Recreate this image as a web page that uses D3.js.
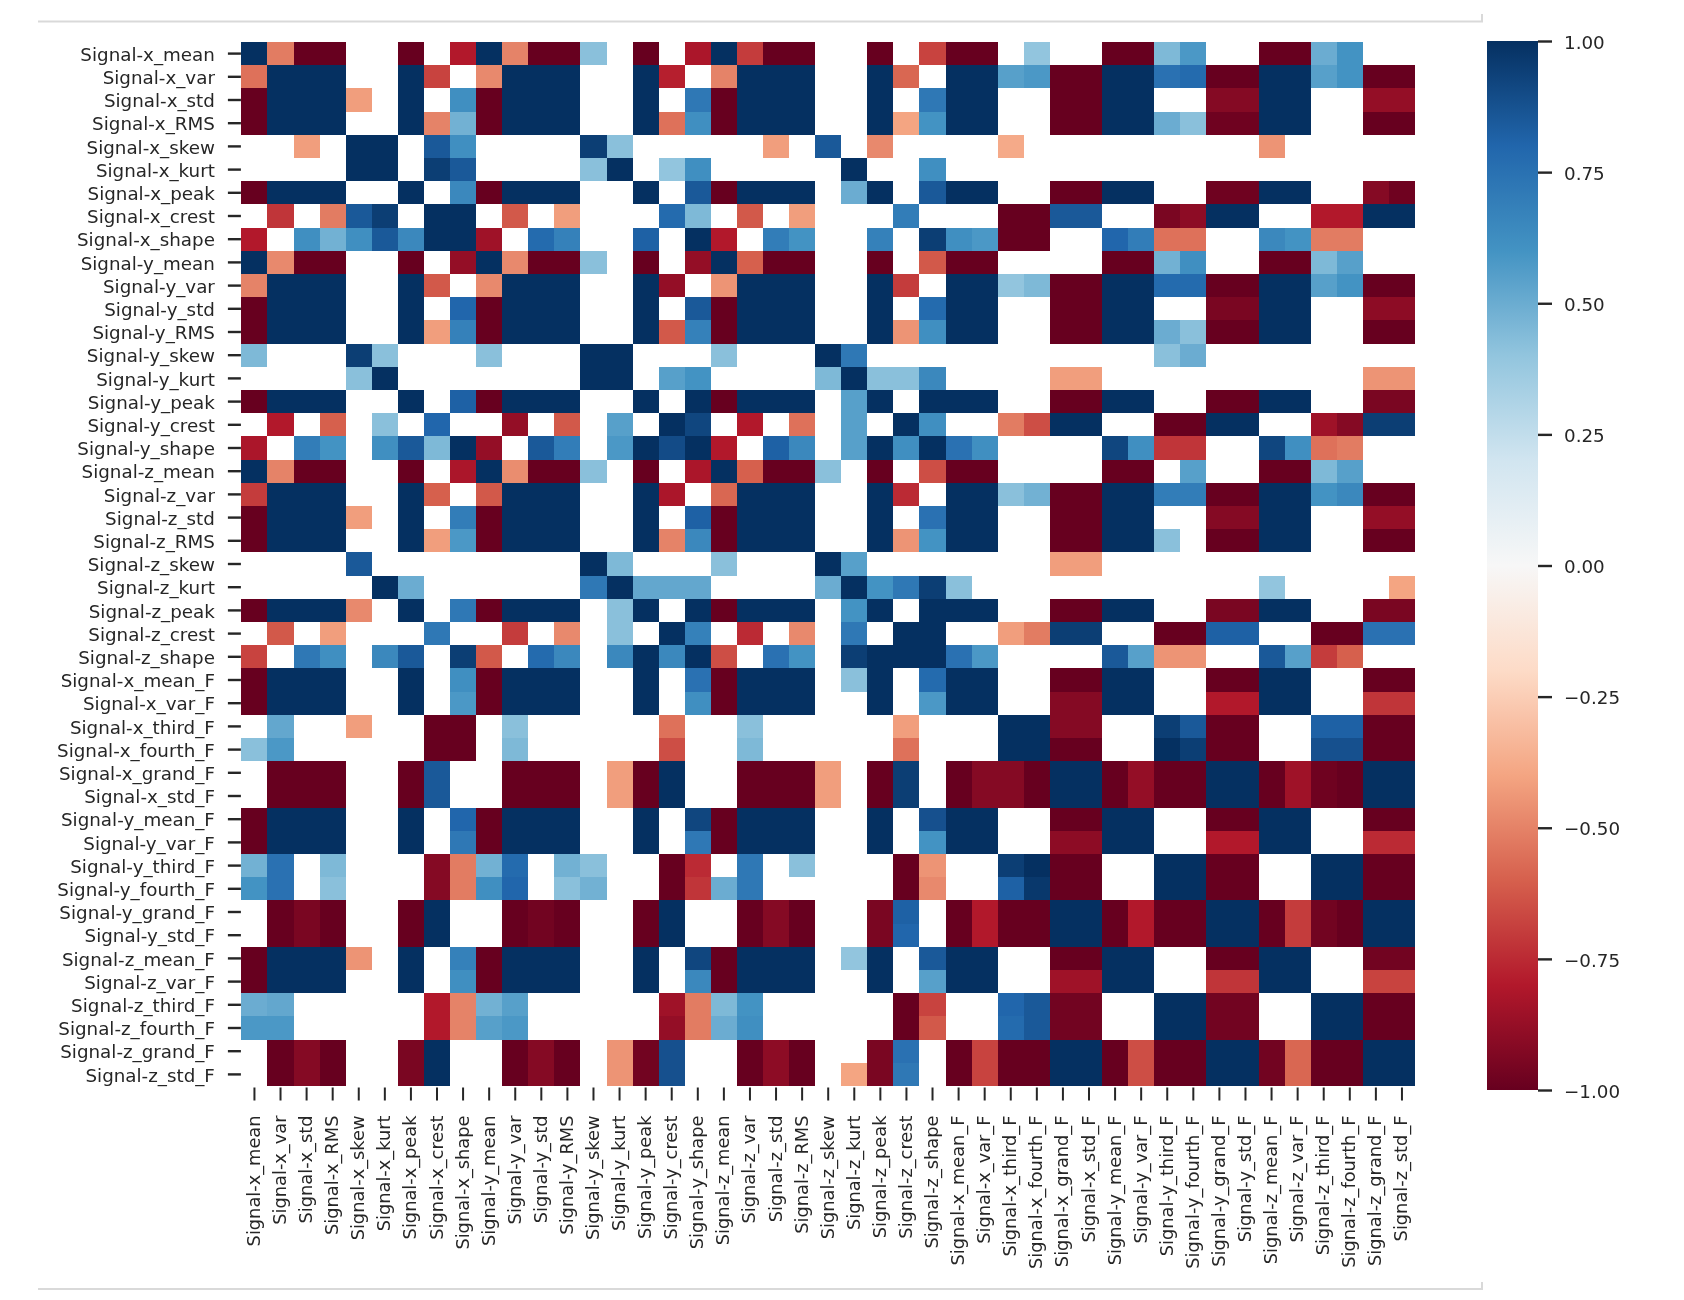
<!DOCTYPE html>
<html><head><meta charset="utf-8">
<script src="https://cdn.jsdelivr.net/npm/d3@7"></script>
<style>html,body{margin:0;padding:0;background:#fff}svg{display:block;filter:blur(.55px)}</style>
</head><body><div id="chart"></div>
<script>
const labels=["Signal-x_mean","Signal-x_var","Signal-x_std","Signal-x_RMS","Signal-x_skew","Signal-x_kurt","Signal-x_peak","Signal-x_crest","Signal-x_shape","Signal-y_mean","Signal-y_var","Signal-y_std","Signal-y_RMS","Signal-y_skew","Signal-y_kurt","Signal-y_peak","Signal-y_crest","Signal-y_shape","Signal-z_mean","Signal-z_var","Signal-z_std","Signal-z_RMS","Signal-z_skew","Signal-z_kurt","Signal-z_peak","Signal-z_crest","Signal-z_shape","Signal-x_mean_F","Signal-x_var_F","Signal-x_third_F","Signal-x_fourth_F","Signal-x_grand_F","Signal-x_std_F","Signal-y_mean_F","Signal-y_var_F","Signal-y_third_F","Signal-y_fourth_F","Signal-y_grand_F","Signal-y_std_F","Signal-z_mean_F","Signal-z_var_F","Signal-z_third_F","Signal-z_fourth_F","Signal-z_grand_F","Signal-z_std_F"];
const colorbarTicks=[-1,-.75,-.5,-.25,0,.25,.5,.75,1];
const rdbuStops=[-1,-.8,-.6,-.4,-.2,0,.2,.4,.6,.8,1];
const rdbuColors=["#67001f","#b2182b","#d6604d","#f4a582","#fddbc7","#f7f7f7","#d1e5f0","#92c5de","#4393c3","#2166ac","#053061"];
// Correlations by row; 0 marks a cell left blank (white) in the reference.
const r00=[1,-.52,-1,-1,0,0,-1,0,-.8, 1,-.5,-1,-1,.42,0,-1,0,-.82, 1,-.7,-1,-1,0,0,-1,0,-.68, -1,-1,0,.4,0,0,-1,-1,.45, .58,0,0,-1,-1,.5,.6,0,0];
const r01=[-.55,1,1,1,0,0,1,-.68,0, -.48,1,1,1,0,0,1,-.78,0, -.5,1,1,1,0,0,1,-.58,0, 1,1,.55,.58,-1,-1,1,1,.75, .78,-1,-1,1,1,.55,.6,-1,-1];
const r02=[-1,1,1,1,-.42,0,1,0,.62, -1,1,1,1,0,0,1,0,.72, -1,1,1,1,0,0,1,0,.72, 1,1,0,0,-1,-1,1,1,0, 0,-.92,-.92,1,1,0,0,-.88,-.88];
const r03=[-1,1,1,1,0,0,1,-.5,.48, -1,1,1,1,0,0,1,-.55,.62, -1,1,1,1,0,0,1,-.4,.6, 1,1,0,0,-1,-1,1,1,.5, .42,-.98,-.98,1,1,0,0,-1,-1];
const r04=[0,0,-.42,0,1,1,0,.85,.62, 0,0,0,0,.95,.42,0,0,0, 0,0,-.42,0,.85,0,-.48,0,0, 0,0,-.38,0,0,0,0,0,0, 0,0,0,-.45,0,0,0,0,0];
const r05=[0,0,0,0,1,1,0,.95,.85, 0,0,0,0,.42,1,0,.4,.62, 0,0,0,0,0,1,0,0,.62, 0,0,0,0,0,0,0,0,0, 0,0,0,0,0,0,0,0,0];
const r06=[-1,1,1,1,0,0,1,0,.65, -1,1,1,1,0,0,1,0,.85, -1,1,1,1,0,.5,1,0,.85, 1,1,0,0,-1,-1,1,1,0, 0,-.98,-.98,1,1,0,0,-.92,-.98];
const r07=[0,-.72,0,-.52,.85,.95,0,1,1, 0,-.62,0,-.42,0,0,0,.78,.45, 0,-.62,0,-.42,0,0,0,.7,0, 0,0,-1,-1,.85,.85,0,0,-.95, -.9,1,1,0,0,-.8,-.8,1,1];
const r08=[-.8,0,.62,.48,.62,.85,.65,1,1, -.85,0,.78,.68,0,0,.82,0,1, -.8,0,.7,.6,0,0,.68,0,.95, .62,.58,-1,-1,0,0,.8,.7,-.55, -.55,0,0,.65,.6,-.52,-.52,0,0];
const r09=[1,-.48,-1,-1,0,0,-1,0,-.88, 1,-.48,-1,-1,.42,0,-1,0,-.88, 1,-.6,-1,-1,0,0,-1,0,-.62, -1,-1,0,0,0,0,-1,-1,.48, .62,0,0,-1,-1,.45,.55,0,0];
const r10=[-.5,1,1,1,0,0,1,-.62,0, -.48,1,1,1,0,0,1,-.88,0, -.45,1,1,1,0,0,1,-.7,0, 1,1,.4,.45,-1,-1,1,1,.78, .78,-1,-1,1,1,.55,.6,-1,-1];
const r11=[-1,1,1,1,0,0,1,0,.8, -1,1,1,1,0,0,1,0,.85, -1,1,1,1,0,0,1,0,.78, 1,1,0,0,-1,-1,1,1,0, 0,-.95,-.95,1,1,0,0,-.9,-.9];
const r12=[-1,1,1,1,0,0,1,-.42,.68, -1,1,1,1,0,0,1,-.62,.68, -1,1,1,1,0,0,1,-.45,.62, 1,1,0,0,-1,-1,1,1,.5, .42,-1,-1,1,1,0,0,-1,-1];
const r13=[.45,0,0,0,.95,.42,0,0,0, .42,0,0,0,1,1,0,0,0, .42,0,0,0,1,.72,0,0,0, 0,0,0,0,0,0,0,0,.42, .5,0,0,0,0,0,0,0,0];
const r14=[0,0,0,0,.42,1,0,0,0, 0,0,0,0,1,1,0,.55,.6, 0,0,0,0,.45,1,.42,.42,.65, 0,0,0,0,-.42,-.42,0,0,0, 0,0,0,0,0,0,0,-.45,-.45];
const r15=[-1,1,1,1,0,0,1,0,.82, -1,1,1,1,0,0,1,0,1, -1,1,1,1,0,.55,1,0,1, 1,1,0,0,-1,-1,1,1,0, 0,-1,-1,1,1,0,0,-.95,-.95];
const r16=[0,-.8,0,-.6,0,.42,0,.8,0, 0,-.88,0,-.62,0,.55,0,1,.92, 0,-.8,0,-.55,0,.55,0,1,.62, 0,0,-.52,-.65,1,1,0,0,-1, -1,1,1,0,0,-.85,-.92,.95,.95];
const r17=[-.82,0,.7,.6,0,.62,.85,.45,1, -.88,0,.85,.7,0,.58,1,.9,1, -.8,0,.82,.65,0,.55,1,.62,1, .75,.62,0,0,0,0,.92,.62,-.72, -.72,0,0,.92,.62,-.55,-.52,0,0];
const r18=[1,-.5,-1,-1,0,0,-1,0,-.82, 1,-.47,-1,-1,.42,0,-1,0,-.82, 1,-.6,-1,-1,.42,0,-1,0,-.65, -1,-1,0,0,0,0,-1,-1,0, .55,0,0,-1,-1,.45,.55,0,0];
const r19=[-.7,1,1,1,0,0,1,-.6,0, -.62,1,1,1,0,0,1,-.82,0, -.58,1,1,1,0,0,1,-.75,0, 1,1,.42,.48,-1,-1,1,1,.7, .7,-1,-1,1,1,.6,.65,-1,-1];
const r20=[-1,1,1,1,-.42,0,1,0,.7, -1,1,1,1,0,0,1,0,.82, -1,1,1,1,0,0,1,0,.75, 1,1,0,0,-1,-1,1,1,0, 0,-.92,-.92,1,1,0,0,-.88,-.88];
const r21=[-1,1,1,1,0,0,1,-.42,.58, -1,1,1,1,0,0,1,-.5,.65, -1,1,1,1,0,0,1,-.45,.6, 1,1,0,0,-1,-1,1,1,.42, 0,-1,-1,1,1,0,0,-1,-1];
const r22=[0,0,0,0,.85,0,0,0,0, 0,0,0,0,1,.45,0,0,0, .42,0,0,0,1,.55,0,0,0, 0,0,0,0,-.42,-.42,0,0,0, 0,0,0,0,0,0,0,0,0];
const r23=[0,0,0,0,0,1,.5,0,0, 0,0,0,0,.72,1,.52,.52,.52, 0,0,0,0,.5,1,.6,.72,.95, .42,0,0,0,0,0,0,0,0, 0,0,0,.4,0,0,0,0,-.4];
const r24=[-1,1,1,1,-.48,0,1,0,.72, -1,1,1,1,0,.42,1,0,1, -1,1,1,1,0,.6,1,0,1, 1,1,0,0,-1,-1,1,1,0, 0,-.95,-.95,1,1,0,0,-.95,-.95];
const r25=[0,-.62,0,-.42,0,0,0,.72,0, 0,-.7,0,-.48,0,.42,0,1,.68, 0,-.75,0,-.48,0,.72,0,1,1, 0,0,-.42,-.52,.95,.95,0,0,-1, -1,.82,.82,0,0,-1,-1,.75,.75];
const r26=[-.68,0,.72,.62,0,.65,.85,0,.95, -.62,0,.78,.65,0,.65,1,.65,1, -.65,0,.75,.6,0,.95,1,1,1, .75,.58,0,0,0,0,.85,.55,-.45, -.45,0,0,.85,.55,-.7,-.6,0,0];
const r27=[-1,1,1,1,0,0,1,0,.62, -1,1,1,1,0,0,1,0,.75, -1,1,1,1,0,.42,1,0,.78, 1,1,0,0,-1,-1,1,1,0, 0,-1,-1,1,1,0,0,-1,-1];
const r28=[-1,1,1,1,0,0,1,0,.58, -1,1,1,1,0,0,1,0,.62, -1,1,1,1,0,0,1,0,.58, 1,1,0,0,-.92,-.92,1,1,0, 0,-.8,-.8,1,1,0,0,-.72,-.72];
const r29=[0,.52,0,0,-.42,0,0,-1,-1, 0,.42,0,0,0,0,0,-.55,0, 0,.42,0,0,0,0,0,-.42,0, 0,0,1,1,-.92,-.92,0,0,.95, .85,-1,-1,0,0,.82,.82,-1,-1];
const r30=[.42,.58,0,0,0,0,0,-1,-1, 0,.45,0,0,0,0,0,-.65,0, 0,.45,0,0,0,0,0,-.55,0, 0,0,1,1,-1,-1,0,0,1, .95,-1,-1,0,0,.88,.88,-1,-1];
const r31=[0,-1,-1,-1,0,0,-1,.85,0, 0,-1,-1,-1,0,-.42,-1,1,0, 0,-1,-1,-1,-.42,0,-1,.95,0, -1,-.92,-.92,-1,1,1,-1,-.88,-1, -1,1,1,-1,-.85,-.98,-1,1,1];
const r32=[0,-1,-1,-1,0,0,-1,.85,0, 0,-1,-1,-1,0,-.42,-1,1,0, 0,-1,-1,-1,-.42,0,-1,.95,0, -1,-.92,-.92,-1,1,1,-1,-.88,-1, -1,1,1,-1,-.85,-.98,-1,1,1];
const r33=[-1,1,1,1,0,0,1,0,.8, -1,1,1,1,0,0,1,0,.92, -1,1,1,1,0,0,1,0,.88, 1,1,0,0,-1,-1,1,1,0, 0,-1,-1,1,1,0,0,-1,-1];
const r34=[-1,1,1,1,0,0,1,0,.72, -1,1,1,1,0,0,1,0,.72, -1,1,1,1,0,0,1,0,.6, 1,1,0,0,-.9,-.9,1,1,0, 0,-.8,-.8,1,1,0,0,-.75,-.75];
const r35=[.48,.75,0,.45,0,0,0,-.92,-.52, .48,.78,0,.48,.42,0,0,-1,-.75, 0,.72,0,.42,0,0,0,-1,-.45, 0,0,.95,1,-1,-1,0,0,1, 1,-1,-1,0,0,1,1,-1,-1];
const r36=[.6,.75,0,.42,0,0,0,-.92,-.52, .62,.8,0,.42,.48,0,0,-1,-.72, .5,.72,0,0,0,0,0,-1,-.48, 0,0,.82,.97,-1,-1,0,0,1, 1,-1,-1,0,0,1,1,-1,-1];
const r37=[0,-1,-.95,-1,0,0,-1,1,0, 0,-1,-.97,-1,0,0,-1,1,0, 0,-1,-.92,-1,0,0,-.95,.82,0, -1,-.8,-1,-1,1,1,-1,-.8,-1, -1,1,1,-1,-.7,-.97,-1,1,1];
const r38=[0,-1,-.95,-1,0,0,-1,1,0, 0,-1,-.97,-1,0,0,-1,1,0, 0,-1,-.92,-1,0,0,-.95,.8,0, -1,-.8,-1,-1,1,1,-1,-.8,-1, -1,1,1,-1,-.7,-.97,-1,1,1];
const r39=[-1,1,1,1,-.45,0,1,0,.68, -1,1,1,1,0,0,1,0,.92, -1,1,1,1,0,.4,1,0,.85, 1,1,0,0,-1,-1,1,1,0, 0,-1,-1,1,1,0,0,-.97,-.97];
const r40=[-1,1,1,1,0,0,1,0,.62, -1,1,1,1,0,0,1,0,.65, -1,1,1,1,0,0,1,0,.55, 1,1,0,0,-.85,-.85,1,1,0, 0,-.72,-.72,1,1,0,0,-.68,-.68];
const r41=[.5,.52,0,0,0,0,0,-.8,-.5, .48,.55,0,0,0,0,0,-.85,-.52, .45,.6,0,0,0,0,0,-1,-.68, 0,0,.8,.85,-.97,-.97,0,0,1, 1,-.97,-.97,0,0,1,1,-1,-1];
const r42=[.58,.58,0,0,0,0,0,-.8,-.5, .55,.58,0,0,0,0,0,-.88,-.52, .5,.62,0,0,0,0,0,-1,-.62, 0,0,.78,.85,-.97,-.97,0,0,1, 1,-.97,-.97,0,0,1,1,-1,-1];
const r43=[0,-1,-.92,-1,0,0,-.95,1,0, 0,-1,-.92,-1,0,-.45,-.97,.88,0, 0,-1,-.9,-1,0,0,-.95,.75,0, -1,-.68,-1,-1,1,1,-1,-.65,-1, -1,1,1,-.97,-.58,-1,-1,1,1];
const r44=[0,-1,-.92,-1,0,0,-.95,1,0, 0,-1,-.92,-1,0,-.45,-.97,.88,0, 0,-1,-.9,-1,0,-.4,-.95,.72,0, -1,-.68,-1,-1,1,1,-1,-.65,-1, -1,1,1,-.97,-.58,-1,-1,1,1];
const matrix=[r00,r01,r02,r03,r04,r05,r06,r07,r08,r09,r10,r11,r12,r13,r14,r15,r16,r17,r18,r19,r20,r21,r22,r23,r24,r25,r26,r27,r28,r29,r30,r31,r32,r33,r34,r35,r36,r37,r38,r39,r40,r41,r42,r43,r44];

const W=1684,H=1300,fs=17.8,ink="#262626";
const plot={l:241.4,r:1415,t:42,b:1086};
const bar={l:1487,r:1538,t:41,b:1090};
const svg=d3.select("#chart").append("svg").attr("width",W).attr("height",H).attr("viewBox",`0 0 ${W} ${H}`);
const x=d3.scaleBand().domain(labels).range([plot.l,plot.r]);
const y=d3.scaleBand().domain(labels).range([plot.t,plot.b]);
const color=d3.scaleLinear().domain(rdbuStops).range(rdbuColors).clamp(true);
const border="#d9d9d9";
const frame=svg.append("g").attr("fill","none").attr("stroke",border).attr("stroke-width",2);
frame.append("path").attr("d",`M38 21.5H1482V14`);
frame.append("path").attr("d",`M38 1289H1482V1282`);

const cells=labels.flatMap((row,i)=>labels.map((col,j)=>({row,col,v:matrix[i][j]}))).filter(d=>d.v!==0);
svg.append("g").attr("shape-rendering","crispEdges").selectAll("rect").data(cells).join("rect")
  .attr("x",d=>x(d.col)).attr("y",d=>y(d.row))
  .attr("width",x.bandwidth()).attr("height",y.bandwidth())
  .attr("fill",d=>color(d.v));

function styleAxis(g,sw,size){
  g.select(".domain").remove();
  g.selectAll(".tick line").attr("stroke",ink).attr("stroke-width",sw);
  g.selectAll("text").attr("fill",ink).attr("font-family","'DejaVu Sans'").attr("font-size",size);
}
const yAxis=svg.append("g").attr("transform",`translate(${plot.l-.5},0)`).call(d3.axisLeft(y).tickSize(13).tickPadding(13));
styleAxis(yAxis,2.4,18.3);
yAxis.selectAll("text").attr("dy","0.39em");
const xAxis=svg.append("g").attr("transform",`translate(0,${plot.b+1.5})`).call(d3.axisBottom(x).tickSize(13).tickPadding(0));
styleAxis(xAxis,2,fs);
xAxis.selectAll("text").attr("text-anchor","end").attr("dy",null).attr("y",null)
  .attr("transform","translate(-1,28) rotate(-90)").attr("dominant-baseline","central");

const defs=svg.append("defs");
const grad=defs.append("linearGradient").attr("id","rdbu").attr("x1",0).attr("y1",1).attr("x2",0).attr("y2",0);
grad.selectAll("stop").data(rdbuStops).join("stop")
  .attr("offset",d=>(d+1)/2).attr("stop-color",d=>color(d));
const cy=d3.scaleLinear().domain([-1,1]).range([bar.b,bar.t]);
svg.append("rect").attr("x",bar.l).attr("y",bar.t).attr("width",bar.r-bar.l).attr("height",bar.b-bar.t).attr("fill","url(#rdbu)");
const cAxis=svg.append("g").attr("transform",`translate(${bar.r},0)`)
  .call(d3.axisRight(cy).tickValues(colorbarTicks).tickSize(14).tickPadding(12).tickFormat(d=>d3.format(".2f")(d).replace("-","\u2212")));
styleAxis(cAxis,2.4,18.3);
cAxis.selectAll("text").attr("dy","0.39em");
</script></body></html>
